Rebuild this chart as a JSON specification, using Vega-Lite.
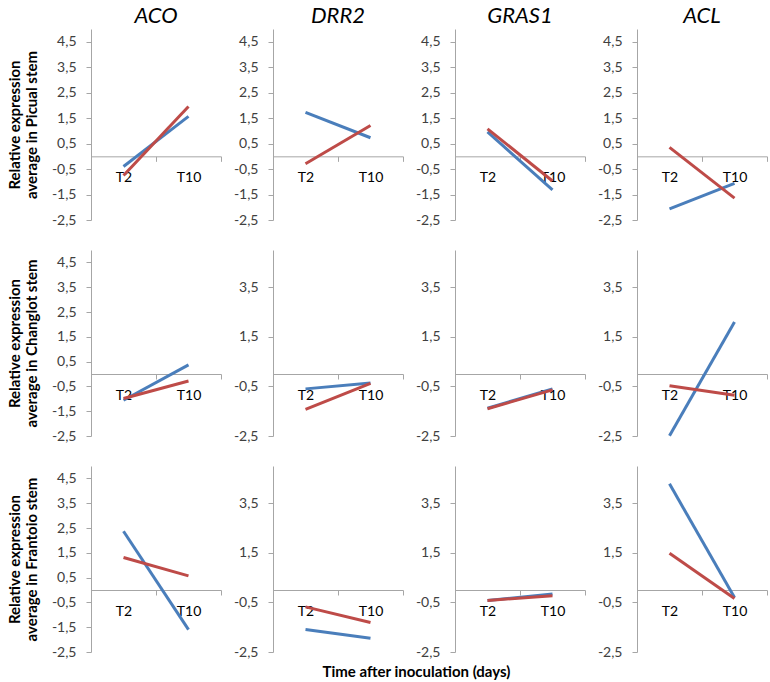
{
  "$schema": "https://vega.github.io/schema/vega-lite/v6.json",
  "padding": {"left": 7, "top": 5, "right": 0, "bottom": 3},
  "bounds": "flush",
  "columns": 4,
  "spacing": {"row": 30, "column": 52},
  "title": {"text": "Time after inoculation (days)", "orient": "bottom", "fontSize": 15, "fontStyle": "normal", "fontWeight": "bold", "offset": 6, "anchor": "middle", "dx": 29},
  "datasets": {
    "expr": [
      {"cultivar": "Picual", "gene": "ACO", "strain": "A", "time": "T2", "value": -0.40},
      {"cultivar": "Picual", "gene": "ACO", "strain": "A", "time": "T10", "value": 1.57},
      {"cultivar": "Picual", "gene": "ACO", "strain": "B", "time": "T2", "value": -0.75},
      {"cultivar": "Picual", "gene": "ACO", "strain": "B", "time": "T10", "value": 1.96},
      {"cultivar": "Picual", "gene": "DRR2", "strain": "A", "time": "T2", "value": 1.73},
      {"cultivar": "Picual", "gene": "DRR2", "strain": "A", "time": "T10", "value": 0.73},
      {"cultivar": "Picual", "gene": "DRR2", "strain": "B", "time": "T2", "value": -0.29},
      {"cultivar": "Picual", "gene": "DRR2", "strain": "B", "time": "T10", "value": 1.21},
      {"cultivar": "Picual", "gene": "GRAS1", "strain": "A", "time": "T2", "value": 0.96},
      {"cultivar": "Picual", "gene": "GRAS1", "strain": "A", "time": "T10", "value": -1.32},
      {"cultivar": "Picual", "gene": "GRAS1", "strain": "B", "time": "T2", "value": 1.08},
      {"cultivar": "Picual", "gene": "GRAS1", "strain": "B", "time": "T10", "value": -0.97},
      {"cultivar": "Picual", "gene": "ACL", "strain": "A", "time": "T2", "value": -2.06},
      {"cultivar": "Picual", "gene": "ACL", "strain": "A", "time": "T10", "value": -1.06},
      {"cultivar": "Picual", "gene": "ACL", "strain": "B", "time": "T2", "value": 0.35},
      {"cultivar": "Picual", "gene": "ACL", "strain": "B", "time": "T10", "value": -1.64},
      {"cultivar": "Changlot", "gene": "ACO", "strain": "A", "time": "T2", "value": -1.06},
      {"cultivar": "Changlot", "gene": "ACO", "strain": "A", "time": "T10", "value": 0.37},
      {"cultivar": "Changlot", "gene": "ACO", "strain": "B", "time": "T2", "value": -0.99},
      {"cultivar": "Changlot", "gene": "ACO", "strain": "B", "time": "T10", "value": -0.28},
      {"cultivar": "Changlot", "gene": "DRR2", "strain": "A", "time": "T2", "value": -0.60},
      {"cultivar": "Changlot", "gene": "DRR2", "strain": "A", "time": "T10", "value": -0.36},
      {"cultivar": "Changlot", "gene": "DRR2", "strain": "B", "time": "T2", "value": -1.43},
      {"cultivar": "Changlot", "gene": "DRR2", "strain": "B", "time": "T10", "value": -0.38},
      {"cultivar": "Changlot", "gene": "GRAS1", "strain": "A", "time": "T2", "value": -1.38},
      {"cultivar": "Changlot", "gene": "GRAS1", "strain": "A", "time": "T10", "value": -0.60},
      {"cultivar": "Changlot", "gene": "GRAS1", "strain": "B", "time": "T2", "value": -1.40},
      {"cultivar": "Changlot", "gene": "GRAS1", "strain": "B", "time": "T10", "value": -0.64},
      {"cultivar": "Changlot", "gene": "ACL", "strain": "A", "time": "T2", "value": -2.49},
      {"cultivar": "Changlot", "gene": "ACL", "strain": "A", "time": "T10", "value": 2.10},
      {"cultivar": "Changlot", "gene": "ACL", "strain": "B", "time": "T2", "value": -0.47},
      {"cultivar": "Changlot", "gene": "ACL", "strain": "B", "time": "T10", "value": -0.86},
      {"cultivar": "Frantoio", "gene": "ACO", "strain": "A", "time": "T2", "value": 2.37},
      {"cultivar": "Frantoio", "gene": "ACO", "strain": "A", "time": "T10", "value": -1.60},
      {"cultivar": "Frantoio", "gene": "ACO", "strain": "B", "time": "T2", "value": 1.31},
      {"cultivar": "Frantoio", "gene": "ACO", "strain": "B", "time": "T10", "value": 0.57},
      {"cultivar": "Frantoio", "gene": "DRR2", "strain": "A", "time": "T2", "value": -1.59},
      {"cultivar": "Frantoio", "gene": "DRR2", "strain": "A", "time": "T10", "value": -1.95},
      {"cultivar": "Frantoio", "gene": "DRR2", "strain": "B", "time": "T2", "value": -0.68},
      {"cultivar": "Frantoio", "gene": "DRR2", "strain": "B", "time": "T10", "value": -1.31},
      {"cultivar": "Frantoio", "gene": "GRAS1", "strain": "A", "time": "T2", "value": -0.42},
      {"cultivar": "Frantoio", "gene": "GRAS1", "strain": "A", "time": "T10", "value": -0.16},
      {"cultivar": "Frantoio", "gene": "GRAS1", "strain": "B", "time": "T2", "value": -0.42},
      {"cultivar": "Frantoio", "gene": "GRAS1", "strain": "B", "time": "T10", "value": -0.23},
      {"cultivar": "Frantoio", "gene": "ACL", "strain": "A", "time": "T2", "value": 4.28},
      {"cultivar": "Frantoio", "gene": "ACL", "strain": "A", "time": "T10", "value": -0.30},
      {"cultivar": "Frantoio", "gene": "ACL", "strain": "B", "time": "T2", "value": 1.48},
      {"cultivar": "Frantoio", "gene": "ACL", "strain": "B", "time": "T10", "value": -0.34}
    ]
  },
  "concat": [
    {"title": "ACO", "width": 130, "height": 191, "data": {"name": "expr"},
     "transform": [{"filter": "datum.cultivar == 'Picual' && datum.gene == 'ACO'"}],
     "mark": {"type": "line", "strokeWidth": 3},
     "encoding": {
       "x": {"field": "time", "type": "nominal", "sort": ["T2", "T10"], "scale": {"type": "band", "paddingInner": 0, "paddingOuter": 0}, "title": null, "axis": {"offset": -63.667}},
       "y": {"field": "value", "type": "quantitative", "scale": {"domain": [-2.5, 5], "nice": false, "zero": false}, "axis": {"values": [-2.5, -1.5, -0.5, 0.5, 1.5, 2.5, 3.5, 4.5], "title": ["Relative expression", "average in Picual stem"]}},
       "color": {"field": "strain", "type": "nominal", "scale": {"domain": ["A", "B"], "range": ["#4a7ebb", "#be4b48"]}, "legend": null}}},
    {"title": "DRR2", "width": 130, "height": 191, "data": {"name": "expr"},
     "transform": [{"filter": "datum.cultivar == 'Picual' && datum.gene == 'DRR2'"}],
     "mark": {"type": "line", "strokeWidth": 3},
     "encoding": {
       "x": {"field": "time", "type": "nominal", "sort": ["T2", "T10"], "scale": {"type": "band", "paddingInner": 0, "paddingOuter": 0}, "title": null, "axis": {"offset": -63.667}},
       "y": {"field": "value", "type": "quantitative", "scale": {"domain": [-2.5, 5], "nice": false, "zero": false}, "axis": {"values": [-2.5, -1.5, -0.5, 0.5, 1.5, 2.5, 3.5, 4.5], "title": null}},
       "color": {"field": "strain", "type": "nominal", "scale": {"domain": ["A", "B"], "range": ["#4a7ebb", "#be4b48"]}, "legend": null}}},
    {"title": "GRAS1", "width": 130, "height": 191, "data": {"name": "expr"},
     "transform": [{"filter": "datum.cultivar == 'Picual' && datum.gene == 'GRAS1'"}],
     "mark": {"type": "line", "strokeWidth": 3},
     "encoding": {
       "x": {"field": "time", "type": "nominal", "sort": ["T2", "T10"], "scale": {"type": "band", "paddingInner": 0, "paddingOuter": 0}, "title": null, "axis": {"offset": -63.667}},
       "y": {"field": "value", "type": "quantitative", "scale": {"domain": [-2.5, 5], "nice": false, "zero": false}, "axis": {"values": [-2.5, -1.5, -0.5, 0.5, 1.5, 2.5, 3.5, 4.5], "title": null}},
       "color": {"field": "strain", "type": "nominal", "scale": {"domain": ["A", "B"], "range": ["#4a7ebb", "#be4b48"]}, "legend": null}}},
    {"title": "ACL", "width": 130, "height": 191, "data": {"name": "expr"},
     "transform": [{"filter": "datum.cultivar == 'Picual' && datum.gene == 'ACL'"}],
     "mark": {"type": "line", "strokeWidth": 3},
     "encoding": {
       "x": {"field": "time", "type": "nominal", "sort": ["T2", "T10"], "scale": {"type": "band", "paddingInner": 0, "paddingOuter": 0}, "title": null, "axis": {"offset": -63.667}},
       "y": {"field": "value", "type": "quantitative", "scale": {"domain": [-2.5, 5], "nice": false, "zero": false}, "axis": {"values": [-2.5, -1.5, -0.5, 0.5, 1.5, 2.5, 3.5, 4.5], "title": null}},
       "color": {"field": "strain", "type": "nominal", "scale": {"domain": ["A", "B"], "range": ["#4a7ebb", "#be4b48"]}, "legend": null}}},
    {"width": 130, "height": 186, "data": {"name": "expr"},
     "transform": [{"filter": "datum.cultivar == 'Changlot' && datum.gene == 'ACO'"}],
     "mark": {"type": "line", "strokeWidth": 3},
     "encoding": {
       "x": {"field": "time", "type": "nominal", "sort": ["T2", "T10"], "scale": {"type": "band", "paddingInner": 0, "paddingOuter": 0}, "title": null, "axis": {"offset": -62}},
       "y": {"field": "value", "type": "quantitative", "scale": {"domain": [-2.5, 5], "nice": false, "zero": false}, "axis": {"values": [-2.5, -1.5, -0.5, 0.5, 1.5, 2.5, 3.5, 4.5], "title": ["Relative expression", "average in Changlot stem"]}},
       "color": {"field": "strain", "type": "nominal", "scale": {"domain": ["A", "B"], "range": ["#4a7ebb", "#be4b48"]}, "legend": null}}},
    {"width": 130, "height": 186, "data": {"name": "expr"},
     "transform": [{"filter": "datum.cultivar == 'Changlot' && datum.gene == 'DRR2'"}],
     "mark": {"type": "line", "strokeWidth": 3},
     "encoding": {
       "x": {"field": "time", "type": "nominal", "sort": ["T2", "T10"], "scale": {"type": "band", "paddingInner": 0, "paddingOuter": 0}, "title": null, "axis": {"offset": -62}},
       "y": {"field": "value", "type": "quantitative", "scale": {"domain": [-2.5, 5], "nice": false, "zero": false}, "axis": {"values": [-2.5, -0.5, 1.5, 3.5], "title": null}},
       "color": {"field": "strain", "type": "nominal", "scale": {"domain": ["A", "B"], "range": ["#4a7ebb", "#be4b48"]}, "legend": null}}},
    {"width": 130, "height": 186, "data": {"name": "expr"},
     "transform": [{"filter": "datum.cultivar == 'Changlot' && datum.gene == 'GRAS1'"}],
     "mark": {"type": "line", "strokeWidth": 3},
     "encoding": {
       "x": {"field": "time", "type": "nominal", "sort": ["T2", "T10"], "scale": {"type": "band", "paddingInner": 0, "paddingOuter": 0}, "title": null, "axis": {"offset": -62}},
       "y": {"field": "value", "type": "quantitative", "scale": {"domain": [-2.5, 5], "nice": false, "zero": false}, "axis": {"values": [-2.5, -0.5, 1.5, 3.5], "title": null}},
       "color": {"field": "strain", "type": "nominal", "scale": {"domain": ["A", "B"], "range": ["#4a7ebb", "#be4b48"]}, "legend": null}}},
    {"width": 130, "height": 186, "data": {"name": "expr"},
     "transform": [{"filter": "datum.cultivar == 'Changlot' && datum.gene == 'ACL'"}],
     "mark": {"type": "line", "strokeWidth": 3},
     "encoding": {
       "x": {"field": "time", "type": "nominal", "sort": ["T2", "T10"], "scale": {"type": "band", "paddingInner": 0, "paddingOuter": 0}, "title": null, "axis": {"offset": -62}},
       "y": {"field": "value", "type": "quantitative", "scale": {"domain": [-2.5, 5], "nice": false, "zero": false}, "axis": {"values": [-2.5, -0.5, 1.5, 3.5], "title": null}},
       "color": {"field": "strain", "type": "nominal", "scale": {"domain": ["A", "B"], "range": ["#4a7ebb", "#be4b48"]}, "legend": null}}},
    {"width": 130, "height": 186, "data": {"name": "expr"},
     "transform": [{"filter": "datum.cultivar == 'Frantoio' && datum.gene == 'ACO'"}],
     "mark": {"type": "line", "strokeWidth": 3},
     "encoding": {
       "x": {"field": "time", "type": "nominal", "sort": ["T2", "T10"], "scale": {"type": "band", "paddingInner": 0, "paddingOuter": 0}, "title": null, "axis": {"offset": -62}},
       "y": {"field": "value", "type": "quantitative", "scale": {"domain": [-2.5, 5], "nice": false, "zero": false}, "axis": {"values": [-2.5, -1.5, -0.5, 0.5, 1.5, 2.5, 3.5, 4.5], "title": ["Relative expression", "average in Frantoio stem"]}},
       "color": {"field": "strain", "type": "nominal", "scale": {"domain": ["A", "B"], "range": ["#4a7ebb", "#be4b48"]}, "legend": null}}},
    {"width": 130, "height": 186, "data": {"name": "expr"},
     "transform": [{"filter": "datum.cultivar == 'Frantoio' && datum.gene == 'DRR2'"}],
     "mark": {"type": "line", "strokeWidth": 3},
     "encoding": {
       "x": {"field": "time", "type": "nominal", "sort": ["T2", "T10"], "scale": {"type": "band", "paddingInner": 0, "paddingOuter": 0}, "title": null, "axis": {"offset": -62}},
       "y": {"field": "value", "type": "quantitative", "scale": {"domain": [-2.5, 5], "nice": false, "zero": false}, "axis": {"values": [-2.5, -0.5, 1.5, 3.5], "title": null}},
       "color": {"field": "strain", "type": "nominal", "scale": {"domain": ["A", "B"], "range": ["#4a7ebb", "#be4b48"]}, "legend": null}}},
    {"width": 130, "height": 186, "data": {"name": "expr"},
     "transform": [{"filter": "datum.cultivar == 'Frantoio' && datum.gene == 'GRAS1'"}],
     "mark": {"type": "line", "strokeWidth": 3},
     "encoding": {
       "x": {"field": "time", "type": "nominal", "sort": ["T2", "T10"], "scale": {"type": "band", "paddingInner": 0, "paddingOuter": 0}, "title": null, "axis": {"offset": -62}},
       "y": {"field": "value", "type": "quantitative", "scale": {"domain": [-2.5, 5], "nice": false, "zero": false}, "axis": {"values": [-2.5, -0.5, 1.5, 3.5], "title": null}},
       "color": {"field": "strain", "type": "nominal", "scale": {"domain": ["A", "B"], "range": ["#4a7ebb", "#be4b48"]}, "legend": null}}},
    {"width": 130, "height": 186, "data": {"name": "expr"},
     "transform": [{"filter": "datum.cultivar == 'Frantoio' && datum.gene == 'ACL'"}],
     "mark": {"type": "line", "strokeWidth": 3},
     "encoding": {
       "x": {"field": "time", "type": "nominal", "sort": ["T2", "T10"], "scale": {"type": "band", "paddingInner": 0, "paddingOuter": 0}, "title": null, "axis": {"offset": -62}},
       "y": {"field": "value", "type": "quantitative", "scale": {"domain": [-2.5, 5], "nice": false, "zero": false}, "axis": {"values": [-2.5, -0.5, 1.5, 3.5], "title": null}},
       "color": {"field": "strain", "type": "nominal", "scale": {"domain": ["A", "B"], "range": ["#4a7ebb", "#be4b48"]}, "legend": null}}}
  ],
  "config": {
    "font": "Lato",
    "view": {"stroke": null},
    "axis": {"domainColor": "#a6a6a6", "tickColor": "#a6a6a6", "labelColor": "#404040", "labelFontSize": 14, "labelFont": "Lato", "grid": false, "tickSize": 5, "domainWidth": 1, "tickWidth": 1},
    "axisY": {"labelPadding": 10, "titleFontWeight": "bold", "titleFontSize": 15, "titleColor": "#000000", "titleLineHeight": 17, "titlePadding": 12, "labelExpr": "replace(replace(format(datum.value, '.1f'), '.', ','), '\u2212', '-')"},
    "axisX": {"tickBand": "extent", "labelAngle": 0, "labelPadding": 9, "labelColor": "#000000"},
    "title": {"fontSize": 22, "fontStyle": "italic", "fontWeight": "normal", "offset": 1, "color": "#000000", "font": "Lato"}
  }
}
